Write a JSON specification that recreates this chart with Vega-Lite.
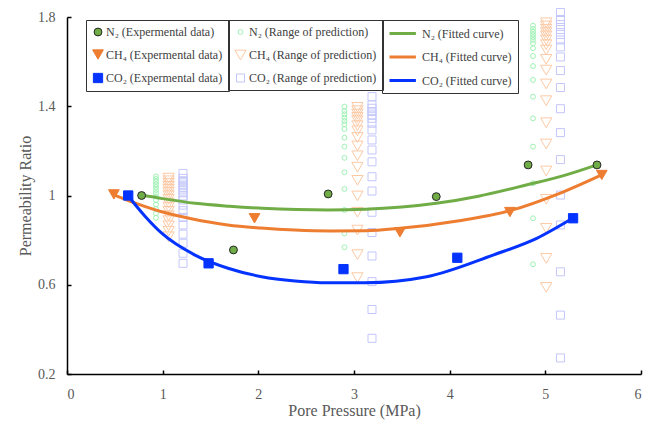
{
  "$schema": "https://vega.github.io/schema/vega-lite/v6.json",
  "width": 574,
  "height": 357,
  "autosize": {"type": "none"},
  "padding": {"left": 67, "top": 17, "right": 13, "bottom": 48},
  "background": "white",
  "config": {
    "view": {"stroke": null},
    "font": "Liberation Serif, Times New Roman, Times, serif",
    "legend": {
      "title": null,
      "orient": "none",
      "labelFont": "Liberation Serif, Times New Roman, Times, serif",
      "labelFontSize": 12,
      "labelColor": "#404040",
      "strokeColor": "#333333",
      "padding": 6,
      "rowPadding": 9.5,
      "labelOffset": 2
    }
  },
  "datasets": {
    "exp": [
      {"p": 0.78, "k": 1.0, "series": "N₂ (Expermental data)"},
      {"p": 1.74, "k": 0.756, "series": "N₂ (Expermental data)"},
      {"p": 2.73, "k": 1.007, "series": "N₂ (Expermental data)"},
      {"p": 3.86, "k": 0.995, "series": "N₂ (Expermental data)"},
      {"p": 4.82, "k": 1.137, "series": "N₂ (Expermental data)"},
      {"p": 5.54, "k": 1.137, "series": "N₂ (Expermental data)"},
      {"p": 0.49, "k": 1.005, "series": "CH₄ (Expermental data)"},
      {"p": 1.96, "k": 0.898, "series": "CH₄ (Expermental data)"},
      {"p": 3.48, "k": 0.835, "series": "CH₄ (Expermental data)"},
      {"p": 4.63, "k": 0.926, "series": "CH₄ (Expermental data)"},
      {"p": 5.59, "k": 1.092, "series": "CH₄ (Expermental data)"},
      {"p": 0.64, "k": 1.0, "series": "CO₂ (Expermental data)"},
      {"p": 1.48, "k": 0.696, "series": "CO₂ (Expermental data)"},
      {"p": 2.89, "k": 0.67, "series": "CO₂ (Expermental data)"},
      {"p": 4.08, "k": 0.721, "series": "CO₂ (Expermental data)"},
      {"p": 5.29, "k": 0.898, "series": "CO₂ (Expermental data)"}
    ],
    "range": [
      {"p": 0.93, "k": 1.086, "series": "N₂ (Range of prediction)"},
      {"p": 0.93, "k": 1.074, "series": "N₂ (Range of prediction)"},
      {"p": 0.93, "k": 1.062, "series": "N₂ (Range of prediction)"},
      {"p": 0.93, "k": 1.05, "series": "N₂ (Range of prediction)"},
      {"p": 0.93, "k": 1.038, "series": "N₂ (Range of prediction)"},
      {"p": 0.93, "k": 1.025, "series": "N₂ (Range of prediction)"},
      {"p": 0.93, "k": 1.011, "series": "N₂ (Range of prediction)"},
      {"p": 0.93, "k": 0.996, "series": "N₂ (Range of prediction)"},
      {"p": 0.93, "k": 0.979, "series": "N₂ (Range of prediction)"},
      {"p": 0.93, "k": 0.96, "series": "N₂ (Range of prediction)"},
      {"p": 0.93, "k": 0.94, "series": "N₂ (Range of prediction)"},
      {"p": 0.93, "k": 0.92, "series": "N₂ (Range of prediction)"},
      {"p": 0.93, "k": 0.9, "series": "N₂ (Range of prediction)"},
      {"p": 2.9, "k": 1.398, "series": "N₂ (Range of prediction)"},
      {"p": 2.9, "k": 1.379, "series": "N₂ (Range of prediction)"},
      {"p": 2.9, "k": 1.364, "series": "N₂ (Range of prediction)"},
      {"p": 2.9, "k": 1.349, "series": "N₂ (Range of prediction)"},
      {"p": 2.9, "k": 1.334, "series": "N₂ (Range of prediction)"},
      {"p": 2.9, "k": 1.319, "series": "N₂ (Range of prediction)"},
      {"p": 2.9, "k": 1.298, "series": "N₂ (Range of prediction)"},
      {"p": 2.9, "k": 1.259, "series": "N₂ (Range of prediction)"},
      {"p": 2.9, "k": 1.219, "series": "N₂ (Range of prediction)"},
      {"p": 2.9, "k": 1.169, "series": "N₂ (Range of prediction)"},
      {"p": 2.9, "k": 1.104, "series": "N₂ (Range of prediction)"},
      {"p": 2.9, "k": 1.029, "series": "N₂ (Range of prediction)"},
      {"p": 2.9, "k": 0.935, "series": "N₂ (Range of prediction)"},
      {"p": 2.9, "k": 0.83, "series": "N₂ (Range of prediction)"},
      {"p": 2.9, "k": 0.768, "series": "N₂ (Range of prediction)"},
      {"p": 4.871, "k": 1.761, "series": "N₂ (Range of prediction)"},
      {"p": 4.871, "k": 1.746, "series": "N₂ (Range of prediction)"},
      {"p": 4.871, "k": 1.734, "series": "N₂ (Range of prediction)"},
      {"p": 4.871, "k": 1.722, "series": "N₂ (Range of prediction)"},
      {"p": 4.871, "k": 1.71, "series": "N₂ (Range of prediction)"},
      {"p": 4.871, "k": 1.697, "series": "N₂ (Range of prediction)"},
      {"p": 4.871, "k": 1.682, "series": "N₂ (Range of prediction)"},
      {"p": 4.871, "k": 1.66, "series": "N₂ (Range of prediction)"},
      {"p": 4.871, "k": 1.625, "series": "N₂ (Range of prediction)"},
      {"p": 4.871, "k": 1.58, "series": "N₂ (Range of prediction)"},
      {"p": 4.871, "k": 1.518, "series": "N₂ (Range of prediction)"},
      {"p": 4.871, "k": 1.443, "series": "N₂ (Range of prediction)"},
      {"p": 4.871, "k": 1.346, "series": "N₂ (Range of prediction)"},
      {"p": 4.871, "k": 1.219, "series": "N₂ (Range of prediction)"},
      {"p": 4.871, "k": 1.055, "series": "N₂ (Range of prediction)"},
      {"p": 4.871, "k": 0.898, "series": "N₂ (Range of prediction)"},
      {"p": 4.871, "k": 0.692, "series": "N₂ (Range of prediction)"},
      {"p": 1.062, "k": 1.078, "series": "CH₄ (Range of prediction)"},
      {"p": 1.062, "k": 1.066, "series": "CH₄ (Range of prediction)"},
      {"p": 1.062, "k": 1.054, "series": "CH₄ (Range of prediction)"},
      {"p": 1.062, "k": 1.041, "series": "CH₄ (Range of prediction)"},
      {"p": 1.062, "k": 1.028, "series": "CH₄ (Range of prediction)"},
      {"p": 1.062, "k": 1.014, "series": "CH₄ (Range of prediction)"},
      {"p": 1.062, "k": 0.999, "series": "CH₄ (Range of prediction)"},
      {"p": 1.062, "k": 0.983, "series": "CH₄ (Range of prediction)"},
      {"p": 1.062, "k": 0.966, "series": "CH₄ (Range of prediction)"},
      {"p": 1.062, "k": 0.948, "series": "CH₄ (Range of prediction)"},
      {"p": 1.062, "k": 0.929, "series": "CH₄ (Range of prediction)"},
      {"p": 1.062, "k": 0.909, "series": "CH₄ (Range of prediction)"},
      {"p": 1.062, "k": 0.887, "series": "CH₄ (Range of prediction)"},
      {"p": 1.062, "k": 0.864, "series": "CH₄ (Range of prediction)"},
      {"p": 1.062, "k": 0.84, "series": "CH₄ (Range of prediction)"},
      {"p": 1.062, "k": 0.815, "series": "CH₄ (Range of prediction)"},
      {"p": 3.036, "k": 1.395, "series": "CH₄ (Range of prediction)"},
      {"p": 3.036, "k": 1.38, "series": "CH₄ (Range of prediction)"},
      {"p": 3.036, "k": 1.365, "series": "CH₄ (Range of prediction)"},
      {"p": 3.036, "k": 1.35, "series": "CH₄ (Range of prediction)"},
      {"p": 3.036, "k": 1.335, "series": "CH₄ (Range of prediction)"},
      {"p": 3.036, "k": 1.313, "series": "CH₄ (Range of prediction)"},
      {"p": 3.036, "k": 1.29, "series": "CH₄ (Range of prediction)"},
      {"p": 3.036, "k": 1.26, "series": "CH₄ (Range of prediction)"},
      {"p": 3.036, "k": 1.222, "series": "CH₄ (Range of prediction)"},
      {"p": 3.036, "k": 1.178, "series": "CH₄ (Range of prediction)"},
      {"p": 3.036, "k": 1.127, "series": "CH₄ (Range of prediction)"},
      {"p": 3.036, "k": 1.068, "series": "CH₄ (Range of prediction)"},
      {"p": 3.036, "k": 0.998, "series": "CH₄ (Range of prediction)"},
      {"p": 3.036, "k": 0.925, "series": "CH₄ (Range of prediction)"},
      {"p": 3.036, "k": 0.845, "series": "CH₄ (Range of prediction)"},
      {"p": 3.036, "k": 0.735, "series": "CH₄ (Range of prediction)"},
      {"p": 3.036, "k": 0.632, "series": "CH₄ (Range of prediction)"},
      {"p": 5.009, "k": 1.774, "series": "CH₄ (Range of prediction)"},
      {"p": 5.009, "k": 1.76, "series": "CH₄ (Range of prediction)"},
      {"p": 5.009, "k": 1.745, "series": "CH₄ (Range of prediction)"},
      {"p": 5.009, "k": 1.73, "series": "CH₄ (Range of prediction)"},
      {"p": 5.009, "k": 1.715, "series": "CH₄ (Range of prediction)"},
      {"p": 5.009, "k": 1.697, "series": "CH₄ (Range of prediction)"},
      {"p": 5.009, "k": 1.676, "series": "CH₄ (Range of prediction)"},
      {"p": 5.009, "k": 1.652, "series": "CH₄ (Range of prediction)"},
      {"p": 5.009, "k": 1.61, "series": "CH₄ (Range of prediction)"},
      {"p": 5.009, "k": 1.562, "series": "CH₄ (Range of prediction)"},
      {"p": 5.009, "k": 1.5, "series": "CH₄ (Range of prediction)"},
      {"p": 5.009, "k": 1.425, "series": "CH₄ (Range of prediction)"},
      {"p": 5.009, "k": 1.326, "series": "CH₄ (Range of prediction)"},
      {"p": 5.009, "k": 1.231, "series": "CH₄ (Range of prediction)"},
      {"p": 5.009, "k": 1.11, "series": "CH₄ (Range of prediction)"},
      {"p": 5.009, "k": 0.983, "series": "CH₄ (Range of prediction)"},
      {"p": 5.009, "k": 0.853, "series": "CH₄ (Range of prediction)"},
      {"p": 5.009, "k": 0.718, "series": "CH₄ (Range of prediction)"},
      {"p": 5.009, "k": 0.588, "series": "CH₄ (Range of prediction)"},
      {"p": 1.213, "k": 1.099, "series": "CO₂ (Range of prediction)"},
      {"p": 1.213, "k": 1.077, "series": "CO₂ (Range of prediction)"},
      {"p": 1.213, "k": 1.066, "series": "CO₂ (Range of prediction)"},
      {"p": 1.213, "k": 1.057, "series": "CO₂ (Range of prediction)"},
      {"p": 1.213, "k": 1.047, "series": "CO₂ (Range of prediction)"},
      {"p": 1.213, "k": 1.037, "series": "CO₂ (Range of prediction)"},
      {"p": 1.213, "k": 1.025, "series": "CO₂ (Range of prediction)"},
      {"p": 1.213, "k": 1.012, "series": "CO₂ (Range of prediction)"},
      {"p": 1.213, "k": 0.998, "series": "CO₂ (Range of prediction)"},
      {"p": 1.213, "k": 0.98, "series": "CO₂ (Range of prediction)"},
      {"p": 1.213, "k": 0.957, "series": "CO₂ (Range of prediction)"},
      {"p": 1.213, "k": 0.932, "series": "CO₂ (Range of prediction)"},
      {"p": 1.213, "k": 0.902, "series": "CO₂ (Range of prediction)"},
      {"p": 1.213, "k": 0.868, "series": "CO₂ (Range of prediction)"},
      {"p": 1.213, "k": 0.827, "series": "CO₂ (Range of prediction)"},
      {"p": 1.213, "k": 0.786, "series": "CO₂ (Range of prediction)"},
      {"p": 1.213, "k": 0.741, "series": "CO₂ (Range of prediction)"},
      {"p": 1.213, "k": 0.696, "series": "CO₂ (Range of prediction)"},
      {"p": 3.188, "k": 1.443, "series": "CO₂ (Range of prediction)"},
      {"p": 3.188, "k": 1.406, "series": "CO₂ (Range of prediction)"},
      {"p": 3.188, "k": 1.391, "series": "CO₂ (Range of prediction)"},
      {"p": 3.188, "k": 1.376, "series": "CO₂ (Range of prediction)"},
      {"p": 3.188, "k": 1.361, "series": "CO₂ (Range of prediction)"},
      {"p": 3.188, "k": 1.346, "series": "CO₂ (Range of prediction)"},
      {"p": 3.188, "k": 1.324, "series": "CO₂ (Range of prediction)"},
      {"p": 3.188, "k": 1.294, "series": "CO₂ (Range of prediction)"},
      {"p": 3.188, "k": 1.249, "series": "CO₂ (Range of prediction)"},
      {"p": 3.188, "k": 1.204, "series": "CO₂ (Range of prediction)"},
      {"p": 3.188, "k": 1.151, "series": "CO₂ (Range of prediction)"},
      {"p": 3.188, "k": 1.084, "series": "CO₂ (Range of prediction)"},
      {"p": 3.188, "k": 1.02, "series": "CO₂ (Range of prediction)"},
      {"p": 3.188, "k": 0.925, "series": "CO₂ (Range of prediction)"},
      {"p": 3.188, "k": 0.834, "series": "CO₂ (Range of prediction)"},
      {"p": 3.188, "k": 0.729, "series": "CO₂ (Range of prediction)"},
      {"p": 3.188, "k": 0.614, "series": "CO₂ (Range of prediction)"},
      {"p": 3.188, "k": 0.489, "series": "CO₂ (Range of prediction)"},
      {"p": 3.188, "k": 0.36, "series": "CO₂ (Range of prediction)"},
      {"p": 5.158, "k": 1.82, "series": "CO₂ (Range of prediction)"},
      {"p": 5.158, "k": 1.789, "series": "CO₂ (Range of prediction)"},
      {"p": 5.158, "k": 1.766, "series": "CO₂ (Range of prediction)"},
      {"p": 5.158, "k": 1.744, "series": "CO₂ (Range of prediction)"},
      {"p": 5.158, "k": 1.722, "series": "CO₂ (Range of prediction)"},
      {"p": 5.158, "k": 1.697, "series": "CO₂ (Range of prediction)"},
      {"p": 5.158, "k": 1.666, "series": "CO₂ (Range of prediction)"},
      {"p": 5.158, "k": 1.621, "series": "CO₂ (Range of prediction)"},
      {"p": 5.158, "k": 1.56, "series": "CO₂ (Range of prediction)"},
      {"p": 5.158, "k": 1.484, "series": "CO₂ (Range of prediction)"},
      {"p": 5.158, "k": 1.389, "series": "CO₂ (Range of prediction)"},
      {"p": 5.158, "k": 1.282, "series": "CO₂ (Range of prediction)"},
      {"p": 5.158, "k": 1.161, "series": "CO₂ (Range of prediction)"},
      {"p": 5.158, "k": 1.002, "series": "CO₂ (Range of prediction)"},
      {"p": 5.158, "k": 0.868, "series": "CO₂ (Range of prediction)"},
      {"p": 5.158, "k": 0.658, "series": "CO₂ (Range of prediction)"},
      {"p": 5.158, "k": 0.464, "series": "CO₂ (Range of prediction)"},
      {"p": 5.158, "k": 0.272, "series": "CO₂ (Range of prediction)"}
    ],
    "fit": [
      {"p": 0.78, "k": 1.002, "series": "N₂ (Fitted curve)"},
      {"p": 1.0, "k": 0.986, "series": "N₂ (Fitted curve)"},
      {"p": 1.34, "k": 0.965, "series": "N₂ (Fitted curve)"},
      {"p": 1.7, "k": 0.952, "series": "N₂ (Fitted curve)"},
      {"p": 2.04, "k": 0.943, "series": "N₂ (Fitted curve)"},
      {"p": 2.4, "k": 0.937, "series": "N₂ (Fitted curve)"},
      {"p": 2.73, "k": 0.935, "series": "N₂ (Fitted curve)"},
      {"p": 3.12, "k": 0.938, "series": "N₂ (Fitted curve)"},
      {"p": 3.5, "k": 0.948, "series": "N₂ (Fitted curve)"},
      {"p": 3.86, "k": 0.965, "series": "N₂ (Fitted curve)"},
      {"p": 4.3, "k": 0.997, "series": "N₂ (Fitted curve)"},
      {"p": 4.8, "k": 1.047, "series": "N₂ (Fitted curve)"},
      {"p": 5.2, "k": 1.09, "series": "N₂ (Fitted curve)"},
      {"p": 5.54, "k": 1.137, "series": "N₂ (Fitted curve)"},
      {"p": 0.49, "k": 1.003, "series": "CH₄ (Fitted curve)"},
      {"p": 0.7, "k": 0.968, "series": "CH₄ (Fitted curve)"},
      {"p": 0.99, "k": 0.927, "series": "CH₄ (Fitted curve)"},
      {"p": 1.3, "k": 0.896, "series": "CH₄ (Fitted curve)"},
      {"p": 1.68, "k": 0.868, "series": "CH₄ (Fitted curve)"},
      {"p": 2.03, "k": 0.854, "series": "CH₄ (Fitted curve)"},
      {"p": 2.38, "k": 0.845, "series": "CH₄ (Fitted curve)"},
      {"p": 2.75, "k": 0.841, "series": "CH₄ (Fitted curve)"},
      {"p": 3.12, "k": 0.842, "series": "CH₄ (Fitted curve)"},
      {"p": 3.48, "k": 0.853, "series": "CH₄ (Fitted curve)"},
      {"p": 4.1, "k": 0.887, "series": "CH₄ (Fitted curve)"},
      {"p": 4.63, "k": 0.932, "series": "CH₄ (Fitted curve)"},
      {"p": 5.15, "k": 1.01, "series": "CH₄ (Fitted curve)"},
      {"p": 5.6, "k": 1.095, "series": "CH₄ (Fitted curve)"},
      {"p": 0.638, "k": 1.0, "series": "CO₂ (Fitted curve)"},
      {"p": 0.72, "k": 0.955, "series": "CO₂ (Fitted curve)"},
      {"p": 0.82, "k": 0.905, "series": "CO₂ (Fitted curve)"},
      {"p": 0.99, "k": 0.831, "series": "CO₂ (Fitted curve)"},
      {"p": 1.338, "k": 0.733, "series": "CO₂ (Fitted curve)"},
      {"p": 1.683, "k": 0.674, "series": "CO₂ (Fitted curve)"},
      {"p": 2.035, "k": 0.636, "series": "CO₂ (Fitted curve)"},
      {"p": 2.383, "k": 0.617, "series": "CO₂ (Fitted curve)"},
      {"p": 2.728, "k": 0.609, "series": "CO₂ (Fitted curve)"},
      {"p": 3.115, "k": 0.609, "series": "CO₂ (Fitted curve)"},
      {"p": 3.76, "k": 0.636, "series": "CO₂ (Fitted curve)"},
      {"p": 4.453, "k": 0.733, "series": "CO₂ (Fitted curve)"},
      {"p": 4.91, "k": 0.808, "series": "CO₂ (Fitted curve)"},
      {"p": 5.289, "k": 0.899, "series": "CO₂ (Fitted curve)"}
    ]
  },
  "layer": [
    {
      "data": {"name": "range"},
      "mark": {"type": "point", "filled": false, "opacity": 1, "strokeWidth": 1, "clip": false},
      "encoding": {
        "x": {
          "field": "p",
          "type": "quantitative",
          "scale": {"domain": [0, 6], "nice": false, "zero": false},
          "axis": {
            "title": "Pore Pressure (MPa)",
            "values": [0, 1, 2, 3, 4, 5, 6],
            "format": "d",
            "grid": false,
            "domainColor": "#000000",
            "domainWidth": 1.5,
            "tickColor": "#000000",
            "tickWidth": 1.5,
            "tickSize": -4,
            "labelFont": "Liberation Serif, Times New Roman, Times, serif",
            "labelFontSize": 14,
            "labelColor": "#595959",
            "labelPadding": 17,
            "titleFont": "Liberation Serif, Times New Roman, Times, serif",
            "titleFontSize": 16,
            "titleFontWeight": "normal",
            "titleColor": "#595959",
            "titlePadding": 1
          }
        },
        "y": {
          "field": "k",
          "type": "quantitative",
          "scale": {"domain": [0.2, 1.8], "nice": false, "zero": false},
          "axis": {
            "title": "Permeability Ratio",
            "values": [0.2, 0.6, 1.0, 1.4, 1.8],
            "format": "~g",
            "grid": false,
            "domainColor": "#000000",
            "domainWidth": 1.5,
            "tickColor": "#000000",
            "tickWidth": 1.5,
            "tickSize": -4,
            "labelFont": "Liberation Serif, Times New Roman, Times, serif",
            "labelFontSize": 14,
            "labelColor": "#595959",
            "labelPadding": 16,
            "titleFont": "Liberation Serif, Times New Roman, Times, serif",
            "titleFontSize": 16,
            "titleFontWeight": "normal",
            "titleColor": "#595959",
            "titlePadding": 4
          }
        },
        "shape": {
          "field": "series",
          "type": "nominal",
          "scale": {
            "domain": ["N₂ (Range of prediction)", "CH₄ (Range of prediction)", "CO₂ (Range of prediction)"],
            "range": ["circle", "triangle-down", "square"]
          },
          "legend": {"legendX": 161, "legendY": 3, "symbolStrokeWidth": 1}
        },
        "stroke": {
          "field": "series",
          "type": "nominal",
          "scale": {
            "domain": ["N₂ (Range of prediction)", "CH₄ (Range of prediction)", "CO₂ (Range of prediction)"],
            "range": ["#9ff2b4", "#fcc9a4", "#c3c6fa"]
          },
          "legend": {"legendX": 161, "legendY": 3, "symbolStrokeWidth": 1}
        },
        "size": {
          "field": "series",
          "type": "nominal",
          "scale": {
            "type": "ordinal",
            "domain": ["N₂ (Range of prediction)", "CH₄ (Range of prediction)", "CO₂ (Range of prediction)"],
            "range": [24, 125, 64]
          },
          "legend": {"legendX": 161, "legendY": 3, "symbolStrokeWidth": 1}
        }
      }
    },
    {
      "data": {"name": "fit"},
      "mark": {"type": "line", "interpolate": "monotone", "strokeWidth": 3, "clip": false},
      "encoding": {
        "x": {"field": "p", "type": "quantitative"},
        "y": {"field": "k", "type": "quantitative"},
        "stroke": {
          "field": "series",
          "type": "nominal",
          "scale": {
            "domain": ["N₂ (Fitted curve)", "CH₄ (Fitted curve)", "CO₂ (Fitted curve)"],
            "range": ["#70ad47", "#ed7d31", "#0433ff"]
          },
          "legend": {
            "legendX": 315,
            "legendY": 3,
            "padding": 6,
            "symbolType": "M-1,0H3.4",
            "symbolSize": 144,
            "symbolStrokeWidth": 3,
            "labelOffset": 19
          }
        }
      }
    },
    {
      "data": {"name": "exp"},
      "mark": {"type": "point", "filled": true, "opacity": 1, "strokeWidth": 1, "clip": false},
      "encoding": {
        "x": {"field": "p", "type": "quantitative"},
        "y": {"field": "k", "type": "quantitative"},
        "shape": {
          "field": "series",
          "type": "nominal",
          "scale": {
            "domain": ["N₂ (Expermental data)", "CH₄ (Expermental data)", "CO₂ (Expermental data)"],
            "range": ["circle", "triangle-down", "square"]
          },
          "legend": {"legendX": 19, "legendY": 3, "symbolStrokeWidth": 1}
        },
        "fill": {
          "field": "series",
          "type": "nominal",
          "scale": {
            "domain": ["N₂ (Expermental data)", "CH₄ (Expermental data)", "CO₂ (Expermental data)"],
            "range": ["#70ad47", "#ed7d31", "#0433ff"]
          },
          "legend": {"legendX": 19, "legendY": 3, "symbolStrokeWidth": 1}
        },
        "stroke": {
          "field": "series",
          "type": "nominal",
          "scale": {
            "domain": ["N₂ (Expermental data)", "CH₄ (Expermental data)", "CO₂ (Expermental data)"],
            "range": ["#262626", "#ed7d31", "#0433ff"]
          },
          "legend": {"legendX": 19, "legendY": 3, "symbolStrokeWidth": 1}
        },
        "size": {
          "field": "series",
          "type": "nominal",
          "scale": {
            "type": "ordinal",
            "domain": ["N₂ (Expermental data)", "CH₄ (Expermental data)", "CO₂ (Expermental data)"],
            "range": [62, 115, 86]
          },
          "legend": {"legendX": 19, "legendY": 3, "symbolStrokeWidth": 1}
        }
      }
    }
  ],
  "resolve": {
    "scale": {"shape": "independent", "stroke": "independent", "fill": "independent", "size": "independent"},
    "legend": {"shape": "independent", "stroke": "independent", "fill": "independent", "size": "independent"}
  }
}
